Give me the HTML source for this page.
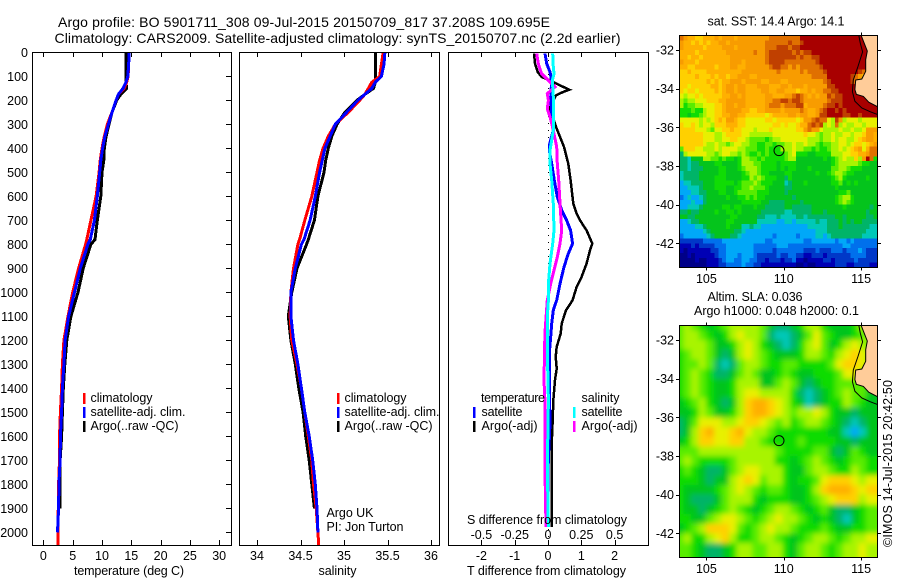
<!DOCTYPE html>
<html lang="en">
<head>
<meta charset="utf-8">
<title>Argo profile chart</title>
<style>
html,body{margin:0;padding:0;background:#fff;}
svg{display:block;}
text{font-family:"Liberation Sans",sans-serif;font-size:12.5px;fill:#000;}
</style>
</head>
<body>
<svg id="chart" xmlns="http://www.w3.org/2000/svg" width="900" height="580" viewBox="0 0 900 580">
  <defs>
    <clipPath id="clip-temp"><rect x="32.5" y="52.5" width="199" height="493"/></clipPath>
    <clipPath id="clip-sal"><rect x="239.5" y="52.5" width="200" height="493"/></clipPath>
    <clipPath id="clip-diff"><rect x="448.5" y="52.5" width="200" height="493"/></clipPath>
    <clipPath id="clip-sst"><rect x="679.5" y="35.5" width="198" height="232"/></clipPath>
    <clipPath id="clip-sla"><rect x="679.5" y="325.5" width="198" height="232"/></clipPath>
    <filter id="sla-blur" x="-10%" y="-10%" width="120%" height="120%"><feGaussianBlur stdDeviation="2.6"/></filter>
  </defs>

  <text x="58" y="27" font-size="14" style="font-size:14px" textLength="492" lengthAdjust="spacing">Argo profile: BO 5901711_308 09-Jul-2015 20150709_817 37.208S 109.695E</text>
  <text x="54.5" y="43" style="font-size:14px" textLength="566" lengthAdjust="spacing">Climatology: CARS2009. Satellite-adjusted climatology: synTS_20150707.nc (2.2d earlier)</text>

  <g id="plot-temp"></g>
  <g id="plot-sal"></g>
  <g id="plot-diff"></g>
  <g id="map-sst"></g>
  <g id="map-sla"></g>

  <text x="74" y="575" textLength="110" lengthAdjust="spacing">temperature (deg C)</text>
  <text x="318.5" y="575" textLength="38" lengthAdjust="spacing">salinity</text>
  <text x="467" y="575" textLength="159" lengthAdjust="spacing">T difference from climatology</text>
  <text x="467" y="524" textLength="160" lengthAdjust="spacing">S difference from climatology</text>

  <g>
    <rect x="83" y="393" width="2.5" height="11" fill="#ff0000"/>
    <rect x="83" y="407" width="2.5" height="11" fill="#0000ff"/>
    <rect x="83" y="421" width="2.5" height="11" fill="#000000"/>
    <text x="90.5" y="402" textLength="62" lengthAdjust="spacing">climatology</text>
    <text x="90.5" y="416" textLength="95" lengthAdjust="spacing">satellite-adj. clim.</text>
    <text x="90.5" y="430" textLength="88" lengthAdjust="spacing">Argo(..raw -QC)</text>
  </g>
  <g>
    <rect x="337" y="393" width="2.5" height="11" fill="#ff0000"/>
    <rect x="337" y="407" width="2.5" height="11" fill="#0000ff"/>
    <rect x="337" y="421" width="2.5" height="11" fill="#000000"/>
    <text x="344.5" y="402" textLength="62" lengthAdjust="spacing">climatology</text>
    <text x="344.5" y="416" textLength="95" lengthAdjust="spacing">satellite-adj. clim.</text>
    <text x="344.5" y="430" textLength="88" lengthAdjust="spacing">Argo(..raw -QC)</text>
  </g>
  <text x="326.5" y="517" textLength="47" lengthAdjust="spacing">Argo UK</text>
  <text x="326.5" y="531" textLength="77" lengthAdjust="spacing">PI: Jon Turton</text>

  <g>
    <text x="481" y="402" textLength="64" lengthAdjust="spacing">temperature</text>
    <text x="581.5" y="402" textLength="38" lengthAdjust="spacing">salinity</text>
    <rect x="473" y="407" width="2.5" height="11" fill="#0000ff"/>
    <rect x="473" y="421" width="2.5" height="11" fill="#000000"/>
    <rect x="573" y="407" width="2.5" height="11" fill="#00ffff"/>
    <rect x="573" y="421" width="2.5" height="11" fill="#ff00ff"/>
    <text x="481.5" y="416" textLength="41" lengthAdjust="spacing">satellite</text>
    <text x="481.5" y="430" textLength="56" lengthAdjust="spacing">Argo(-adj)</text>
    <text x="581.5" y="416" textLength="41" lengthAdjust="spacing">satellite</text>
    <text x="581.5" y="430" textLength="56" lengthAdjust="spacing">Argo(-adj)</text>
  </g>

  <text x="707.5" y="25.5" textLength="137" lengthAdjust="spacing">sat. SST: 14.4 Argo: 14.1</text>
  <text x="707.5" y="301" textLength="95" lengthAdjust="spacing">Altim. SLA: 0.036</text>
  <text x="694" y="315" textLength="165" lengthAdjust="spacing">Argo h1000: 0.048 h2000: 0.1</text>
  <text transform="translate(892 547) rotate(-90)" x="0" y="0" textLength="167" lengthAdjust="spacing">©IMOS 14-Jul-2015 20:42:50</text>
</svg>

<script>
// ---------- profile data ----------
const profileDepths = [0,50,100,125,150,175,200,250,300,350,400,450,500,600,700,780,800,900,1000,1100,1200,1300,1400,1500,1600,1700,1800,1900,2000,2055];
const tempClim = [14.6,14.55,14.45,14.2,13.8,12.8,12.4,11.7,10.9,10.4,10.0,9.7,9.5,9.0,8.1,7.4,7.2,6.0,5.0,4.2,3.5,3.25,3.1,2.9,2.75,2.75,2.6,2.55,2.45,2.45];
const tempSat = [14.6,14.55,14.4,14.1,13.6,12.8,12.4,11.7,11.1,10.5,10.1,9.8,9.6,9.2,8.7,8.0,7.6,6.3,5.3,4.3,3.7,3.5,3.25,3.1,2.9,2.85,2.65,2.6,2.4,null];
const tempArgo = [14.1,14.1,14.1,14.1,14.2,13.2,12.5,11.7,11.2,10.7,10.4,10.3,10.0,9.8,9.2,8.8,8.1,6.8,5.9,4.7,4.0,3.65,3.4,3.25,3.1,2.85,2.85,2.8,null,null];
const salClim = [35.45,35.43,35.41,35.32,35.28,35.24,35.18,35.05,34.9,34.82,34.76,34.72,34.69,34.63,34.55,34.49,34.47,34.42,34.39,34.38,34.40,34.46,34.51,34.55,34.59,34.63,34.65,34.68,34.70,34.71];
const salSat = [35.47,35.46,35.43,35.36,35.32,35.24,35.16,35.03,34.9,34.84,34.78,34.75,34.72,34.67,34.61,34.54,34.51,34.44,34.39,34.39,34.42,34.47,34.51,34.55,34.60,34.64,34.67,34.69,34.70,null];
const salArgo = [35.36,35.36,35.36,35.36,35.34,35.24,35.15,35.01,34.92,34.86,34.82,34.79,34.77,34.70,34.66,34.59,34.57,34.46,34.40,34.36,34.39,34.44,34.48,34.53,34.56,34.60,34.63,34.66,null,null];

// ---------- difference data ----------
const tDiffArgoDepths = [5,47,82,103,117,128,144,156,165,179,200,235,269,311,360,394,464,533,631,672,700,742,797,825,880,936,978,1033,1075,1130,1172,1227,1269,1318,1366,1450,1533,1630,1977];
const tDiffArgo = [-0.42,-0.39,-0.31,-0.19,0.06,0.21,0.46,0.64,0.46,0.24,0.16,0.04,0.14,0.24,0.38,0.48,0.61,0.68,0.76,0.86,0.96,1.16,1.33,1.26,1.16,1.01,0.86,0.74,0.54,0.41,0.38,0.26,0.23,0.26,0.21,0.16,0.14,0.11,0.11];
const tDiffSatDepths = [5,47,82,117,186,255,325,387,408,464,533,603,658,700,742,797,839,894,964,1033,1075,1130,1186,1255,1380,1547,1700,1977];
const tDiffSat = [-0.09,-0.04,0.06,0.11,0.08,0.11,0.16,0.04,0.04,0.11,0.19,0.28,0.41,0.56,0.68,0.74,0.61,0.48,0.36,0.26,0.16,0.11,0.08,0.04,0.04,0.06,0.01,-0.02];
const sDiffSatDepths = [5,61,89,117,186,255,325,408,464,533,631,742,797,881,964,1033,1102,1241,1450,1727,1977];
const sDiffSat = [0.035,0.04,0.045,0.033,0.04,0.04,0.04,0.015,0.015,0.028,0.04,0.045,0.035,0.015,0.003,0.003,-0.005,-0.005,0.003,-0.005,0.003];
const sDiffArgoDepths = [5,47,89,117,144,172,200,235,269,325,394,464,533,631,742,797,853,908,964,1033,1172,1366,1450,1727,1977];
const sDiffArgo = [-0.085,-0.073,-0.048,0.003,0.053,-0.005,0.003,-0.005,0.015,0.04,0.065,0.07,0.08,0.09,0.103,0.09,0.07,0.045,0.02,-0.005,-0.023,-0.03,-0.023,-0.023,-0.015];

// ---------- axis tick labels ----------
const depthTicks = [0,100,200,300,400,500,600,700,800,900,1000,1100,1200,1300,1400,1500,1600,1700,1800,1900,2000];
const tempTicks = [0,5,10,15,20,25,30];
const salTicks = [34,34.5,35,35.5,36];
const tDiffTicks = [-2,-1,0,1,2];
const sDiffTicks = [-0.5,-0.25,0,0.25,0.5];
const lonTicks = [105,110,115];
const latTicks = [-32,-34,-36,-38,-40,-42];

// ---------- map data: each char is a colour class (low A .. high R) ----------
const sstRows = [
"PONNMMNNNONOOONOOOOOOOOPPPPPPPPRRRRRRRRRRRRRRRRRRRR",
"ONNMNMNMNNOONOOOOOOOOOPPPPPPQPPQRRRRRRRRRRRRRRRRRRR",
"ONNNNNMNNNNOOONOOOOOOOPPPQQQPQQRRRRRRRRRRRRRRRRRRRR",
"NNNNMNNNNNNNOOOOOOOPOOPQQQQQQPQPQQRRRRRRRRRRRRRRRRR",
"NNMNNMNNNNNNNOOOOOOOOOPQQQQQQQPQPPQQRRRRRRRRRRRRRRR",
"ONNNMNNNNNNNNOOONOOOOOPQQQQPPPPPPPPQRRRRRRRRRRRRRRR",
"NNMMNNNNNMNNNOONNOOOOOOPQQPPOPOPPPPPQRRRRRRRRRRRRRR",
"MMNMMMMNNNNNNNNNOOOOOOOOOPOOOOOPOPPPPQRRRRRRRRQPNRR",
"MMMMNMMMNMNNMNNOOONNOOOOOOOOOOOOOOPPPPRRRRRRQPONMRR",
"MMMMMMMNMNMNNOOONOOOONNOOONNOOOOOOOOOPQRRRRRQPOONRR",
"MMLMMMMMNNMNOONOONNNOOONNNOONOOONOOOOOQQRRRRRRPPPPP",
"MLMMLMMMMNMNOONOONNNNOONNOONNNMNNONOOPPQQRRRRRRRRRR",
"LKLLMLMMMMMNNOONONNNNNOONNNOOPQPONONOOQPQQRRRRRRRRR",
"KJKKLLLMMMNNOOOOONNNNNOOPPQQPQQPOOOOOOPQQQRRRRRRRRR",
"KIJJKKLLLMMNOONOONNNNNOPPPOPPPQQNOOOOPQQRQRRRRRRRRR",
"IIIJIIKLLMMNOOOONNMMNNOOOONOOOOPONNOPQRRQRQRRRRRRRR",
"IIHIIJKLLMMNNOONNMMMMMLMNNNNOONOONNOQQRRRRQQRRQRRRR",
"LLLLLKLKLMNMOONMMLLLLLMMLMMMMMLMOOPQPPLKQOKLLLKLLLL",
"MLLMLKLLKMMMNNNMMLLLLLLLMMLMLLMNNPQPQKLKPKLKKLLKLLL",
"MMMMLLLKJLLMMNMMLLLKLLLMLLLLLLMMOPOOLKKKKLKKLKKLOOO",
"MMMMMMLLLKKLMMMMLLKKKKKKLLLLLLLLMLLKJKKLKKLLKLLMOON",
"MMMMMMLLLKKLLMMLLKJJJJIJKKLLLLLLLKKKJKKLKLLKKLMNOON",
"MMMMMMLKKLKKJKLLKKJJIIJJIJJKKLKKLKKJIJJKKLLKLMMLMNO",
"JMMMLLKKKLKLLLLKKJJJIIJIIIKKKLKKJJIJIIJKKLKLMNOLNPP",
"GKLLLLLKKJKLLKKJKJIIJIJIIIIJKLIIIHHIIIIKKKLLMMNNOPP",
"GGFHHHKKJJIJIIHIKKJJIJIIIIIJKKHHHHHHHIHIJKLKKMKORPI",
"GGFGGHHHHIIHHHHIKKKJJIIIIHIIIIHHHHHHHHHIJKKKKKJIIHH",
"GGFGGGHHHHIIHHHIJKKKJIIIIHIHIIHHHIHHHHHJJKKJIIIHHHH",
"FGGGGHHHHHIIHHHHIJKKJIIHHHHIIHHHHHHIHHIJKKJIIHHHHHH",
"FGGGGHHHHIIIHHHHIIKJKJIIIHHGIHHHHHHHHHHIJKIHHHHHIHH",
"EFFGGGHHHIIIIIHIJJJKJIIIHHHFGHHHIHHHHHHIIJHIHIHHHHH",
"EEFFFGHHHIIIHHIIJJKJJJIHHHHGGHHHHHHHHHHHIHHHHHHHHHH",
"EEEFFGGHHHIIHHIJJJJJIIIHHHHGHHHHHHHHHHHHHIIJHHHHHHH",
"DEFEEFGHHHHHIHHIIJIJIIHHHHHHHGHHHHHHHHHHIJKKIHHHHHH",
"EEEFEEGHHHHHHHHHIIIIIHHGGGGHHHHGHHHHHHHHIJKJIHHHHHH",
"EEFFFGHHHHHIIHIIHHHIHHGGGGGHHGGGGGHHHHHHHHIHHHHHHGH",
"GGHGGHHHHIHHIIHIHHHHHGGGGGGFFGGGGGHHHGHHHHHHHHHHGHH",
"HHGGHHHHHHHHHIIHHHHHGGFFFGFFFFGGFGGGGGGGHHGHHHHHGGH",
"EEFGGHHHHHHHIIHHHHHHFFFFFEEFFEFFFFFGFFGGGHGHGHHGGGG",
"EEEEFFGHHHHHIHHHFFGFFEEEEEEEEEEEEFFFFFGGGHGGGGGGGFF",
"EEEEEEFGHHHHHHGGFEEEEEEEEEEEEEEEEEEFFFGGGGGGGGGGFFF",
"DEEEEEEFGHHHHGGFEEEEEEEEDEEEEEDEEEEFFEFGGGGGGGGFFFF",
"CCCCCCDDDDDEEEEEEEEEEEDDEEEEEEEEDDEEEEEEDEEDEDDDDDD",
"BBBCBCCCCDDDEEEEEEEDDDDDDEEEDDDDDDDDDDDDDDEEDDDDDDD",
"BABBBBBBCCDDEEEEEEEDDDDDCDDDDDDDCCCDCCCDDDCDDDEDCCC",
"AABABBBBBCDDEEEDEEEDCCCCCDCCDDCCBBCCCBCCCCCCDDDDCCC",
"AAAABAABBBCDEEDDEEDDCCBCCCBCCDBBABBBBCCBCCCCCDCCCCC",
"AAAAAAABBBCCDDDDEDDCCBBBBBBBBBAABAABBBBBCCCBBCCCCBB"
];
const slaRows = [
"JKJIHIJKKKKJHGGHIKKIHHHIKK",
"JKKJIHIKLKKJGFFGHJLJIHHIJK",
"JKKKJHHIKLKIHGFGIKLJHIKLKJ",
"IJKKJHGHKLKJIHHHIKKJIKLMLK",
"IJJKJGFGJKKJIIJJIIIIJLMMLJ",
"IJKJIGGHJKJHHIJIHHIIIJLLKI",
"IJKJIHHIKKKHHJKJHGHIIJJJJI",
"IJKJIHHIKLLKKKKIGFGHIJKJJH",
"HIJKIHGHKMNNMLKIHFGHIIKJIH",
"HHIKJHHIKMNNMLKJKKLKIHHGHH",
"GHJLLLKKLMMLKJKIJKKJIHGFGH",
"GHKMNLLMNLKKJIIIIIIIHHFEFH",
"HIKMMLLMMKKJIIIIJIIIIHHGHH",
"JJJKKKKKKKKKKJIIIIJJHGHJIH",
"JKJIIIIJKKKKKIIHIJKJIHIJJI",
"IJIHGGHJKLLKKKIHHJKKJIIKJI",
"IIIHGHHKLMLJKKIHIIJLMMMLKL",
"IHHHHIJKLKJIJJIHHIKMNNNMLM",
"IHGGGHJKKKIHIIIHHIJKLMMMKL",
"IHHGHIJKJIHIJKKJIHIJHGGHIJ",
"IIHHJKLLKJIJKLKKJIHIHGFHIJ",
"HIJKMMMLJIJKLKKJIIIJIHHIIJ",
"JKIIKLMKIIJKKJIHIJKKJIJKKL",
"JJIHGGHIKKJJKKIHJKKJIJKKLK"
];
const colourClasses = {A:"#000088",B:"#0000b4",C:"#0038c8",D:"#0070ec",E:"#00a8f8",F:"#00c8b8",G:"#00b468",H:"#04c41c",I:"#10dc04",J:"#58ec00",K:"#a8f400",L:"#e8f000",M:"#ffd000",N:"#ffb000",O:"#f89c00",P:"#e07000",Q:"#c04000",R:"#a80000"};

// ---------- coast data (degrees) ----------
const landLons = [115.0,115.2,115.4,115.3,115.3,115.05,114.65,114.6,114.7,115.15,115.5,116.1,116.1];
const landLats = [31.24,31.65,32.05,32.5,33.1,33.5,33.55,34.05,34.3,34.4,34.7,34.95,31.24];
const shelfLons = [114.85,114.95,115.1,114.8,114.5,114.44,114.6,115.05,115.6,116.1];
const shelfLats = [31.24,31.65,32.1,32.85,33.55,34.15,34.65,35.0,35.2,35.35];
const argoLon = 109.695;
const argoLat = 37.208;

// ---------- scales ----------
function yDepth(d){ return 52.3 + d * 0.24; }
function xTemp(t){ return 43.4 + t * 5.86; }
function xSal(s){ return 257 + (s - 34) * 87; }
function xTDiff(t){ return 548 + t * 33.3; }
function xSDiff(s){ return xTDiff(s * 4); }
function xLon(lon){ return 679.3 + (lon - 103.25) * 15.47; }
function yLatTop(lat){ return 35.3 + (lat - 31.24) * 19.33; }
function yLatBottom(lat){ return 325.3 + (lat - 31.24) * 19.33; }

const SVGNS = "http://www.w3.org/2000/svg";
function mk(tag, parent){
  const el = document.createElementNS(SVGNS, tag);
  parent.appendChild(el);
  return el;
}
function tickLine(parent, x1, y1, x2, y2){
  const l = mk("line", parent);
  
  
  l.setAttribute("x1", x1); l.setAttribute("y1", y1);
  l.setAttribute("x2", x2); l.setAttribute("y2", y2);
  l.setAttribute("stroke", "#000");
  l.setAttribute("stroke-width", "1");
  l.setAttribute("shape-rendering", "crispEdges");
}
function tickText(parent, x, y, str, anchor){
  const t = mk("text", parent);
  
  
  t.setAttribute("x", x); t.setAttribute("y", y);
  t.setAttribute("text-anchor", anchor);
  t.textContent = str;
}
function frame(parent, x, y, w, h){
  const r = mk("rect", parent);
  
  
  r.setAttribute("x", x); r.setAttribute("y", y);
  r.setAttribute("width", w); r.setAttribute("height", h);
  r.setAttribute("fill", "none");
  r.setAttribute("stroke", "#000");
  r.setAttribute("shape-rendering", "crispEdges");
}
function seriesLine(parent, depths, values, xFn, colour, name, clipId, width){
  const pts = [];
  for (let i = 0; i < depths.length; i++) {
    if (values[i] === null) continue;
    pts.push(xFn(values[i]).toFixed(1) + "," + yDepth(depths[i]).toFixed(1));
  }
  const p = mk("polyline", parent);
  
  
  p.setAttribute("points", pts.join(" "));
  p.setAttribute("fill", "none");
  p.setAttribute("stroke", colour);
  p.setAttribute("stroke-width", width);
  p.setAttribute("shape-rendering", "crispEdges");
  p.setAttribute("clip-path", "url(#" + clipId + ")");
}

// ---------- temperature panel ----------
const gTemp = document.getElementById("plot-temp");
seriesLine(gTemp, profileDepths, tempArgo, xTemp, "#000", "temperature-argo-line", "clip-temp", 3);
seriesLine(gTemp, profileDepths, tempClim, xTemp, "#f00", "temperature-climatology-line", "clip-temp", 3);
seriesLine(gTemp, profileDepths, tempSat, xTemp, "#00f", "temperature-satellite-line", "clip-temp", 3);
frame(gTemp, 32.5, 52.5, 199, 493);
depthTicks.forEach(function(d){
  tickLine(gTemp, 226, Math.round(yDepth(d)) + 0.5, 231, Math.round(yDepth(d)) + 0.5);
  tickText(gTemp, 28, yDepth(d) + 4.5, String(d), "end");
});
tempTicks.forEach(function(t){
  const x = Math.round(xTemp(t)) + 0.5;
  tickLine(gTemp, x, 52, x, 57);
  tickLine(gTemp, x, 540, x, 545);
  tickText(gTemp, xTemp(t), 560, String(t), "middle");
});

// ---------- salinity panel ----------
const gSal = document.getElementById("plot-sal");
seriesLine(gSal, profileDepths, salArgo, xSal, "#000", "salinity-argo-line", "clip-sal", 3);
seriesLine(gSal, profileDepths, salClim, xSal, "#f00", "salinity-climatology-line", "clip-sal", 3);
seriesLine(gSal, profileDepths, salSat, xSal, "#00f", "salinity-satellite-line", "clip-sal", 3);
frame(gSal, 239.5, 52.5, 200, 493);
salTicks.forEach(function(s){
  const x = Math.round(xSal(s)) + 0.5;
  tickLine(gSal, x, 52, x, 57);
  tickLine(gSal, x, 540, x, 545);
  tickText(gSal, xSal(s), 560, String(s), "middle");
});

// ---------- difference panel ----------
const gDiff = document.getElementById("plot-diff");
const zeroLine = mk("line", gDiff);


zeroLine.setAttribute("x1", xTDiff(0) + 0.5);
zeroLine.setAttribute("x2", xTDiff(0) + 0.5);
zeroLine.setAttribute("y1", 53);
zeroLine.setAttribute("y2", 545);
zeroLine.setAttribute("stroke", "#000");
zeroLine.setAttribute("stroke-dasharray", "1 6");
zeroLine.setAttribute("shape-rendering", "crispEdges");
seriesLine(gDiff, tDiffArgoDepths, tDiffArgo, xTDiff, "#000", "t-difference-argo-line", "clip-diff", 2.5);
seriesLine(gDiff, tDiffSatDepths, tDiffSat, xTDiff, "#00f", "t-difference-satellite-line", "clip-diff", 3);
seriesLine(gDiff, sDiffArgoDepths, sDiffArgo, xSDiff, "#f0f", "s-difference-argo-line", "clip-diff", 3);
seriesLine(gDiff, sDiffSatDepths, sDiffSat, xSDiff, "#0ff", "s-difference-satellite-line", "clip-diff", 3);
frame(gDiff, 448.5, 52.5, 200, 493);
tDiffTicks.forEach(function(t){
  const x = Math.round(xTDiff(t)) + 0.5;
  tickLine(gDiff, x, 52, x, 57);
  tickLine(gDiff, x, 540, x, 545);
  tickText(gDiff, xTDiff(t), 560, String(t), "middle");
});
sDiffTicks.forEach(function(s){
  tickText(gDiff, xSDiff(s), 539, String(s), "middle");
});

// ---------- maps ----------
function drawCells(parent, rows, x0, y0, w, h, name, bleed){
  const nr = rows.length, nc = rows[0].length;
  const cw = w / nc, ch = h / nr;
  for (let r = 0; r < nr; r++) {
    for (let c = 0; c < nc; c++) {
      const key = rows[r].charAt(c) || rows[r].charAt(rows[r].length - 1);
      const rect = mk("rect", parent);
      
      
      const left = (c === 0) ? x0 - bleed : x0 + c * cw;
      const right = (c === nc - 1) ? x0 + w + bleed : x0 + (c + 1) * cw;
      const top = (r === 0) ? y0 - bleed : y0 + r * ch;
      const bot = (r === nr - 1) ? y0 + h + bleed : y0 + (r + 1) * ch;
      rect.setAttribute("x", left.toFixed(2));
      rect.setAttribute("y", top.toFixed(2));
      rect.setAttribute("width", (right - left + 0.4).toFixed(2));
      rect.setAttribute("height", (bot - top + 0.4).toFixed(2));
      rect.setAttribute("fill", colourClasses[key]);
      rect.setAttribute("shape-rendering", "crispEdges");
    }
  }
}
function drawMapOverlay(parent, yLat, clipId, frameTop){
  const land = mk("polygon", parent);
  
  
  land.setAttribute("points", landLons.map(function(lon, i){ return xLon(lon).toFixed(1) + "," + yLat(landLats[i]).toFixed(1); }).join(" "));
  land.setAttribute("fill", "#ffcc99");
  land.setAttribute("stroke", "#000");
  land.setAttribute("stroke-width", "1");
  land.setAttribute("clip-path", "url(#" + clipId + ")");
  const shelf = mk("polyline", parent);
  
  
  shelf.setAttribute("points", shelfLons.map(function(lon, i){ return xLon(lon).toFixed(1) + "," + yLat(shelfLats[i]).toFixed(1); }).join(" "));
  shelf.setAttribute("fill", "none");
  shelf.setAttribute("stroke", "#000");
  shelf.setAttribute("stroke-width", "1");
  shelf.setAttribute("clip-path", "url(#" + clipId + ")");
  const marker = mk("circle", parent);
  
  
  marker.setAttribute("cx", xLon(argoLon));
  marker.setAttribute("cy", yLat(argoLat));
  marker.setAttribute("r", 5);
  marker.setAttribute("fill", "none");
  marker.setAttribute("stroke", "#000");
  marker.setAttribute("stroke-width", "1");
  frame(parent, 679.5, frameTop, 198, 232);
  lonTicks.forEach(function(lon){
    const x = Math.round(xLon(lon)) + 0.5;
    tickLine(parent, x, frameTop - 3, x, frameTop);
    tickLine(parent, x, frameTop + 232, x, frameTop + 235);
    tickText(parent, xLon(lon), frameTop + 247.5, String(lon), "middle");
  });
  latTicks.forEach(function(lat){
    const y = Math.round(yLat(-lat)) + 0.5;
    tickLine(parent, 676, y, 679.5, y);
    tickLine(parent, 877.5, y, 881, y);
    tickText(parent, 674, yLat(-lat) + 4.5, String(lat), "end");
  });
}

const gSst = document.getElementById("map-sst");
const sstCells = mk("g", gSst);


sstCells.setAttribute("clip-path", "url(#clip-sst)");
drawCells(sstCells, sstRows, 679.5, 35.5, 198, 232, "sst-cell", 0);
drawMapOverlay(gSst, yLatTop, "clip-sst", 35.5);

const gSla = document.getElementById("map-sla");
const slaClip = mk("g", gSla);


slaClip.setAttribute("clip-path", "url(#clip-sla)");
const slaCells = mk("g", slaClip);


slaCells.setAttribute("filter", "url(#sla-blur)");
slaCells.setAttribute("transform", "translate(-3.8 -4.8)");
drawCells(slaCells, slaRows, 679.5, 325.5, 198, 232, "sla-cell", 14);
drawMapOverlay(gSla, yLatBottom, "clip-sla", 325.5);
</script>
</body>
</html>
